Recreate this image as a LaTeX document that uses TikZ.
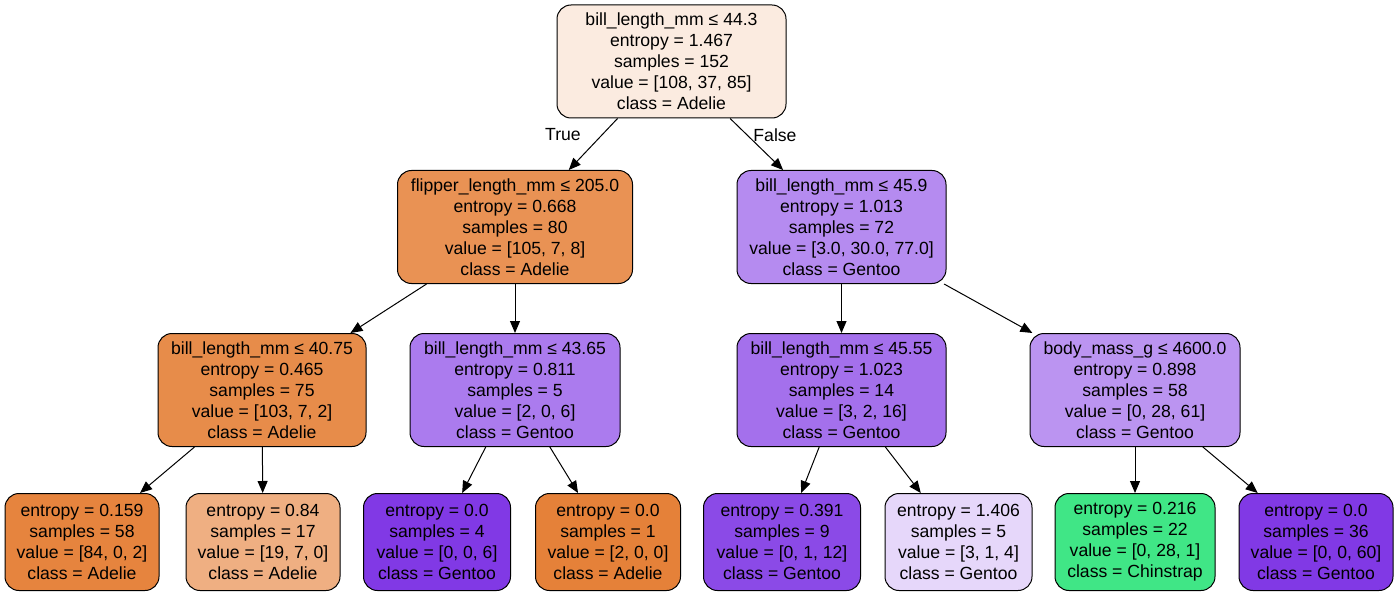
\documentclass[tikz,border=0pt]{standalone}
\usepackage{fontspec}
\setmainfont{Liberation Sans}
\usetikzlibrary{arrows.meta}
\definecolor{adelie}{HTML}{E58139}
\definecolor{gentoo}{HTML}{8139E5}
\definecolor{chinstrap}{HTML}{40E686}
\definecolor{rootfill}{HTML}{FBEBE0}
\definecolor{flipfill}{HTML}{E99254}
\definecolor{rightfill}{HTML}{B58BF0}
\definecolor{afill}{HTML}{E78C4A}
\definecolor{bfill}{HTML}{AB7BEE}
\definecolor{cfill}{HTML}{A470EC}
\definecolor{dfill}{HTML}{BB94F1}
\definecolor{leafa}{HTML}{E6843E}
\definecolor{leafb}{HTML}{EFAF82}
\definecolor{leafe}{HTML}{8B4AE7}
\definecolor{leaff}{HTML}{E6D7FA}
\begin{document}
\begin{tikzpicture}[x=1pt,y=-1pt,
  box/.style={draw=black,line width=1pt,rounded corners=14pt,align=center,inner sep=0pt,
    font=\fontsize{17.6}{21}\selectfont},
  split/.style={box,minimum height=113pt},
  leaf/.style={box,minimum height=97pt},
  edge/.style={line width=1pt,-{Triangle[length=12pt,width=10pt]}},
  elabel/.style={font=\fontsize{17.6}{21}\selectfont}]
\useasboundingbox (0,0) rectangle (1399,596);
\node[split,fill=rootfill,minimum width=229pt] (root) at (671.5,61.5) {bill\_length\_mm ≤ 44.3\\entropy = 1.467\\samples = 152\\value = [108, 37, 85]\\class = Adelie};
\node[split,fill=flipfill,minimum width=235pt] (flip) at (515,227) {flipper\_length\_mm ≤ 205.0\\entropy = 0.668\\samples = 80\\value = [105, 7, 8]\\class = Adelie};
\node[split,fill=rightfill,minimum width=209pt] (bill) at (841.5,227) {bill\_length\_mm ≤ 45.9\\entropy = 1.013\\samples = 72\\value = [3.0, 30.0, 77.0]\\class = Gentoo};
\node[split,fill=afill,minimum width=208pt] (billa) at (262,390) {bill\_length\_mm ≤ 40.75\\entropy = 0.465\\samples = 75\\value = [103, 7, 2]\\class = Adelie};
\node[split,fill=bfill,minimum width=210pt] (billb) at (515,390) {bill\_length\_mm ≤ 43.65\\entropy = 0.811\\samples = 5\\value = [2, 0, 6]\\class = Gentoo};
\node[split,fill=cfill,minimum width=209pt] (billc) at (841.5,390) {bill\_length\_mm ≤ 45.55\\entropy = 1.023\\samples = 14\\value = [3, 2, 16]\\class = Gentoo};
\node[split,fill=dfill,minimum width=210pt] (mass) at (1135,390) {body\_mass\_g ≤ 4600.0\\entropy = 0.898\\samples = 58\\value = [0, 28, 61]\\class = Gentoo};
\node[leaf,fill=leafa,minimum width=154pt] (l1) at (82,542) {entropy = 0.159\\samples = 58\\value = [84, 0, 2]\\class = Adelie};
\node[leaf,fill=leafb,minimum width=154pt] (l2) at (263,542) {entropy = 0.84\\samples = 17\\value = [19, 7, 0]\\class = Adelie};
\node[leaf,fill=gentoo,minimum width=147pt] (l3) at (437,542) {entropy = 0.0\\samples = 4\\value = [0, 0, 6]\\class = Gentoo};
\node[leaf,fill=adelie,minimum width=145pt] (l4) at (608,542) {entropy = 0.0\\samples = 1\\value = [2, 0, 0]\\class = Adelie};
\node[leaf,fill=leafe,minimum width=157pt] (l5) at (782,542) {entropy = 0.391\\samples = 9\\value = [0, 1, 12]\\class = Gentoo};
\node[leaf,fill=leaff,minimum width=147pt] (l6) at (958.5,542) {entropy = 1.406\\samples = 5\\value = [3, 1, 4]\\class = Gentoo};
\node[leaf,fill=chinstrap,minimum width=160pt] (l7) at (1135,542) {entropy = 0.216\\samples = 22\\value = [0, 28, 1]\\class = Chinstrap};
\node[leaf,fill=gentoo,minimum width=154pt] (l8) at (1316,542) {entropy = 0.0\\samples = 36\\value = [0, 0, 60]\\class = Gentoo};
\draw[edge] (root) -- (flip);
\draw[edge] (root) -- (bill);
\draw[edge] (flip) -- (billa);
\draw[edge] (flip) -- (billb);
\draw[edge] (bill) -- (billc);
\draw[edge] (bill) -- (mass);
\draw[edge] (billa) -- (l1);
\draw[edge] (billa) -- (l2);
\draw[edge] (billb) -- (l3);
\draw[edge] (billb) -- (l4);
\draw[edge] (billc) -- (l5);
\draw[edge] (billc) -- (l6);
\draw[edge] (mass) -- (l7);
\draw[edge] (mass) -- (l8);
\node[elabel] (true) at (563,135) {True};
\node[elabel] (false) at (775,135) {False};
\end{tikzpicture}
\end{document}
